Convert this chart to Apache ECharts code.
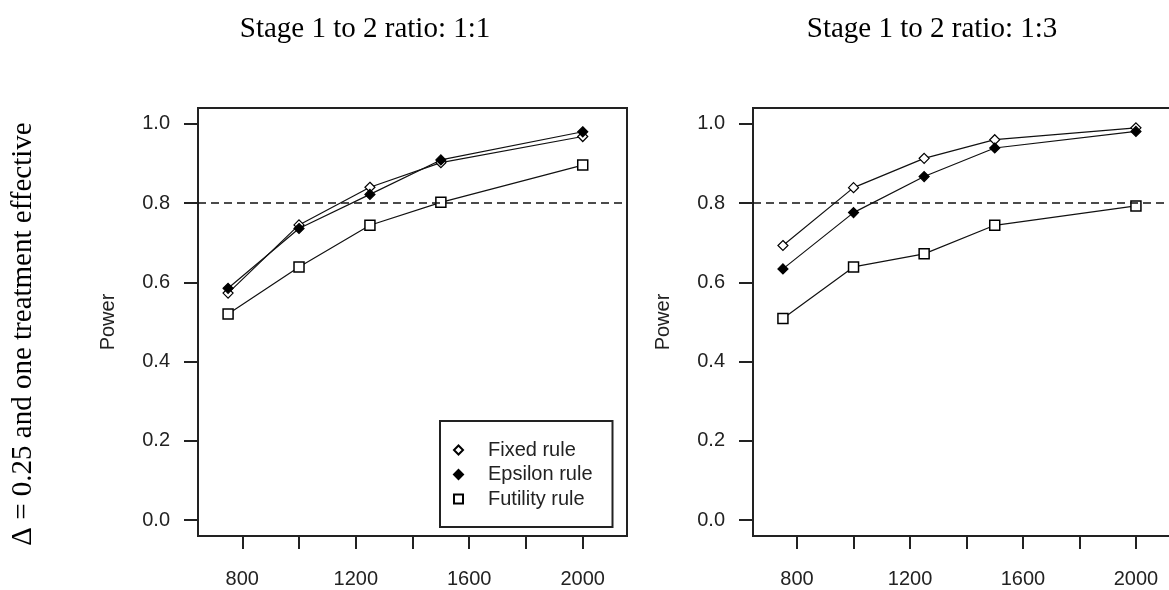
<!DOCTYPE html>
<html>
<head>
<meta charset="utf-8">
<title>Power by sample size</title>
<script src="https://cdn.jsdelivr.net/npm/echarts@6/dist/echarts.min.js"></script>
<style>
  html, body { margin: 0; padding: 0; background: #fff; overflow: hidden; }
  /* the right panel's frame runs past the page edge in the original, so the canvas is a bit wider */
  #main { width: 1184px; height: 590px; }
</style>
</head>
<body>
<div id="main"></div>
<script>
// total sample size (x)
var sampleSize = [750, 1000, 1250, 1500, 2000];

// stage 1 to 2 ratio 1:1
var fixed11 = [0.573, 0.745, 0.840, 0.902, 0.968];
var epsilon11 = [0.585, 0.736, 0.822, 0.909, 0.980];
var futility11 = [0.520, 0.639, 0.744, 0.802, 0.896];

// stage 1 to 2 ratio 1:3
var fixed13 = [0.693, 0.839, 0.913, 0.960, 0.990];
var epsilon13 = [0.634, 0.776, 0.867, 0.939, 0.981];
var futility13 = [0.509, 0.639, 0.672, 0.744, 0.793];

// axis ticks
var xTicks = [800, 1000, 1200, 1400, 1600, 1800, 2000];
var xLabels = [800, 1200, 1600, 2000];
var yTicks = [0, 0.2, 0.4, 0.6, 0.8, 1.0];
var targetPower = 0.8;

var panelTitles = ['Stage 1 to 2 ratio: 1:1', 'Stage 1 to 2 ratio: 1:3'];
var rowLabel = '\u0394 = 0.25 and one treatment effective';
var seriesNames = ['Fixed rule', 'Epsilon rule', 'Futility rule'];

var sansFont = '"Liberation Sans", Arial, sans-serif';
var serifFont = '"Liberation Serif", "Times New Roman", serif';
var ink = '#222';

function pairs(ys) {
    return sampleSize.map(function (x, i) { return [x, ys[i]]; });
}

function xAxisFor(idx) {
    return {
        type: 'value', gridIndex: idx, min: 644, max: 2156,
        axisLine: { show: true, onZero: false, lineStyle: { color: ink, width: 2 } },
        axisTick: { show: true, length: 13, customValues: xTicks, lineStyle: { color: ink, width: 2 } },
        axisLabel: {
            customValues: xLabels, margin: 33, fontSize: 20, fontFamily: sansFont, color: '#222',
            formatter: function (v) { return String(v); }
        },
        splitLine: { show: false }
    };
}

function yAxisFor(idx) {
    return {
        type: 'value', gridIndex: idx, min: -0.04, max: 1.04,
        name: 'Power', nameLocation: 'middle', nameGap: 80, nameRotate: 90,
        nameTextStyle: { fontSize: 20, fontFamily: sansFont, color: '#222' },
        axisLine: { show: true, onZero: false, lineStyle: { color: ink, width: 2 } },
        axisTick: { show: true, length: 14, customValues: yTicks, lineStyle: { color: ink, width: 2 } },
        axisLabel: {
            customValues: yTicks, margin: 28, fontSize: 20, fontFamily: sansFont, color: '#222',
            formatter: function (v) { return v.toFixed(1); }
        },
        splitLine: { show: false }
    };
}

var symbolStyles = [
    { symbol: 'diamond', symbolSize: 10, itemStyle: { color: '#fff', borderColor: '#000', borderWidth: 1.2 } },
    { symbol: 'diamond', symbolSize: 10, itemStyle: { color: '#000', borderColor: '#000', borderWidth: 1.2 } },
    { symbol: 'rect', symbolSize: 10, itemStyle: { color: '#fff', borderColor: '#000', borderWidth: 1.5 } }
];

function makeSeries(idx, name, ys, style, withRef) {
    var s = {
        type: 'line', name: name, xAxisIndex: idx, yAxisIndex: idx,
        data: pairs(ys),
        symbol: style.symbol, symbolSize: style.symbolSize,
        itemStyle: style.itemStyle,
        lineStyle: { color: '#111', width: 1.2 },
        emphasis: { disabled: true }
    };
    if (withRef) {
        s.markLine = {
            silent: true, symbol: 'none', label: { show: false },
            lineStyle: { color: '#111', width: 1.6, type: [8, 5] },
            data: [{ yAxis: targetPower }]
        };
    }
    return s;
}

var series = [];
[[fixed11, epsilon11, futility11], [fixed13, epsilon13, futility13]].forEach(function (set, idx) {
    // futility first so diamonds sit on top
    series.push(makeSeries(idx, seriesNames[2], set[2], symbolStyles[2], true));
    series.push(makeSeries(idx, seriesNames[0], set[0], symbolStyles[0], false));
    series.push(makeSeries(idx, seriesNames[1], set[1], symbolStyles[1], false));
});

var chart = echarts.init(document.getElementById('main'), null, { renderer: 'canvas' });
chart.setOption({
    animation: false,
    backgroundColor: '#fff',
    grid: [
        { left: 198, top: 108, width: 429, height: 428, show: true, borderColor: ink, borderWidth: 2, backgroundColor: 'transparent' },
        { left: 753, top: 108, width: 427, height: 428, show: true, borderColor: ink, borderWidth: 2, backgroundColor: 'transparent' }
    ],
    xAxis: [xAxisFor(0), xAxisFor(1)],
    yAxis: [yAxisFor(0), yAxisFor(1)],
    legend: {
        left: 440, top: 421, orient: 'vertical',
        data: [
            { name: seriesNames[0], icon: 'diamond' },
            { name: seriesNames[1], icon: 'diamond' },
            { name: seriesNames[2], icon: 'rect' }
        ],
        itemWidth: 9, itemHeight: 9, itemGap: 4.5,
        padding: [19, 20, 18, 13],
        borderColor: ink, borderWidth: 2, backgroundColor: '#fff',
        selectedMode: false,
        textStyle: { fontSize: 20, fontFamily: sansFont, color: '#222', lineHeight: 20, padding: [0, 0, 0, 20] }
    },
    graphic: [
        { type: 'text', x: 365, y: 29, style: { text: panelTitles[0], font: '29px ' + serifFont, fill: '#000', textAlign: 'center', textVerticalAlign: 'middle' } },
        { type: 'text', x: 932, y: 29, style: { text: panelTitles[1], font: '29px ' + serifFont, fill: '#000', textAlign: 'center', textVerticalAlign: 'middle' } },
        { type: 'text', x: 23, y: 334, rotation: Math.PI / 2, style: { text: rowLabel, font: '29px ' + serifFont, fill: '#000', textAlign: 'center', textVerticalAlign: 'middle' } }
    ],
    series: series
});
</script>
</body>
</html>
